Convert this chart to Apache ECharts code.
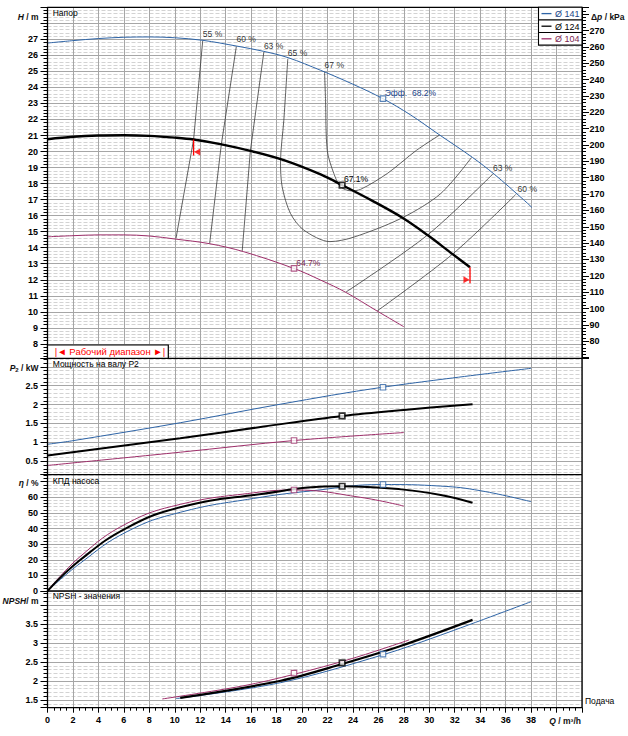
<!DOCTYPE html>
<html><head><meta charset="utf-8">
<script src="https://cdn.jsdelivr.net/npm/echarts@6.0.0/dist/echarts.min.js"></script>
<style>html,body{margin:0;padding:0;background:#fff}#c{width:628px;height:736px}</style>
</head><body><div id="c"></div>
<script>
// ---------- data ----------
const diameters = ['Ø 141', 'Ø 124', 'Ø 104'];
const qTicksMax = 38;
// Head H [m] vs Q [m3/h]
const headD141 = [[0,26.77],[2,26.92],[4,27.05],[6,27.13],[8,27.15],[10,27.1],[12.2,26.94],[14.87,26.58],[17,26.25],[18.9,25.86],[21.46,25.07],[24,24.2],[26.36,23.3],[28.5,22.3],[30.8,21.04],[33.4,19.63],[35.1,18.59],[37.4,17.0],[38.07,16.51]];
const headD124 = [[0,20.77],[2,20.92],[4,21.0],[6,21.02],[8,20.98],[10,20.87],[11.48,20.75],[13.58,20.46],[15.94,20.04],[18.57,19.46],[21.46,18.57],[23.17,17.9],[25.5,16.94],[27.89,15.87],[29.86,14.79],[31.83,13.6],[33.2,12.78]];
const headD104 = [[0,14.68],[2,14.75],[4,14.8],[6,14.8],[8,14.73],[10.04,14.54],[12.74,14.25],[15.42,13.75],[19.35,12.71],[21.46,11.98],[23.43,11.22],[25.9,10.05],[28.0,9.07]];
// Shaft power P2 [kW]
const powerD141 = [[0,0.95],[2,1.045],[10.43,1.52],[18.3,2.01],[26.34,2.46],[38,2.96]];
const powerD124 = [[0,0.65],[10.43,1.11],[17,1.42],[23.15,1.70],[28,1.86],[33.4,2.01]];
const powerD104 = [[0,0.39],[10.43,0.74],[19.4,1.05],[28,1.26]];
// Pump efficiency [%]
const etaD141 = [[0,0],[2.56,17.7],[6.24,38],[10.43,50.4],[16.2,59.3],[20.8,64.2],[26.34,68.2],[30.9,67.2],[34.05,64.2],[38,57.2]];
const etaD124 = [[0,0],[2.56,19.8],[6.24,40.5],[10.43,53.6],[16.2,61.5],[23.15,67.1],[27.8,65.1],[30.9,61.5],[33.4,56.5]];
const etaD104 = [[0,0],[2.56,22],[6.24,43.3],[10.43,55.5],[16.2,62.9],[19.4,64.7],[24.6,60],[28,54.4]];
// NPSH [m]
const npshD141 = [[10.1,1.54],[18.33,1.96],[26.34,2.69],[30.9,3.21],[38,4.09]];
const npshD124 = [[10.43,1.56],[18.33,2.01],[23.15,2.45],[27.8,2.93],[33.4,3.61]];
const npshD104 = [[9.02,1.53],[15.3,1.87],[19.4,2.18],[24,2.6],[28.4,3.08]];
// Best efficiency points
const bepQ = [26.36, 23.15, 19.37];
const bepH = [23.3, 17.9, 12.71];
const bepP = [2.46, 1.70, 1.05];
const bepEta = [68.2, 67.1, 64.7];
const bepNPSH = [2.71, 2.48, 2.21];
const bepLabel = ['Эфф.  68.2%', '67.1%', '64.7%'];
// Iso-efficiency lines in the head panel
const iso55 = [[12.2,26.94],[11.48,20.75],[10.1,14.6]];
const iso60 = [[14.84,26.56],[13.66,20.45],[12.74,14.25]];
const iso63 = [[17.0,26.21],[15.94,20.04],[15.3,13.8]];
const iso65 = [[18.88,25.78],[18.57,21.95],[18.31,19.35],[18.44,17.8],[19.09,16.14],[20.14,15.1],[22.2,14.38],[24.07,14.66],[27.89,15.87],[30.9,17.38],[33.32,19.63]];
const iso67 = [[21.77,24.97],[21.85,23.2],[21.98,20.08],[22.5,18.63],[23.03,17.8],[23.82,17.55],[24.6,17.64],[26.7,18.63],[29.0,20.08],[30.83,21.04]];
const iso63r = [[35.0,18.6],[29.86,14.79],[23.43,11.22]];
const iso60r = [[36.8,17.32],[31.83,13.6],[25.9,10.05]];
const isoLabels = ['55 %','60 %','63 %','65 %','67 %','63 %','60 %'];
// operating range limits on the Ø124 curve
const opRangeQ = [11.48, 33.2];

// ---------- layout / style ----------
const FONT = 'Liberation Sans';
const colors = ['#2e64a6', '#000000', '#9e2f6a'];
const textColors = ['#1a4488', '#000000', '#7c1f52'];
const GRID = '#a6a6a6', MINOR = '#d3d3d3';
const L = 47.5, R = 582, T = [7.3, 358.3, 474.7, 591, 707.7];
const RHO_G = 9.8;

const grids = [0,1,2,3].map(i => ({left: L, top: T[i], width: R - L, height: T[i+1] - T[i], show: false}));

const xAxes = [0,1,2,3].map(i => ({
  type: 'value', gridIndex: i, min: 0, max: 42, interval: 2,
  axisLine: {show: i === 3, onZero: false, lineStyle: {color: '#000', width: 1}},
  axisTick: {show: i === 3, length: 5, lineStyle: {color: '#000'}},
  minorTick: {show: i === 3, splitNumber: 4, length: 3, lineStyle: {color: '#000'}},
  axisLabel: {show: i === 3, margin: 8, fontSize: 9, fontWeight: 'bold', color: '#000', fontFamily: FONT,
    formatter: v => (v <= qTicksMax ? String(v) : '')},
  splitLine: {show: true, lineStyle: {color: GRID, width: 1}},
  minorSplitLine: {show: false}
}));

function yAx(gi, min, max, step, minorN, lo, hi, pos, split) {
  const right = pos === 'right';
  return {
    type: 'value', gridIndex: gi, position: right ? 'right' : 'left', min, max,
    minInterval: step, maxInterval: step, splitNumber: Math.round((max - min) / step),
    axisLine: {show: true, onZero: false, lineStyle: {color: '#000', width: 1}},
    axisTick: {show: true, length: 7, lineStyle: {color: '#000', width: 1}},
    minorTick: {show: true, splitNumber: minorN, length: 4, lineStyle: {color: '#000', width: 1}},
    axisLabel: {margin: right ? 7.5 : 9.5, fontSize: 9, fontWeight: 'bold', color: '#000', fontFamily: FONT,
      formatter: v => {
        const k = v / step;
        if (v < lo - 1e-6 || v > hi + 1e-6 || Math.abs(k - Math.round(k)) > 1e-6) return '';
        return String(+v.toFixed(2));
      }},
    splitLine: {show: split !== false, lineStyle: {color: GRID, width: 1}},
    minorSplitLine: {show: split !== false, lineStyle: {color: MINOR, width: 1, type: [4, 2]}}
  };
}

const yAxes = [
  yAx(0, 7.1, 29, 1, 5, 8, 27),
  yAx(0, 7.1 * RHO_G, 29 * RHO_G, 10, 5, 80, 270, 'right', false),
  yAx(1, 0.145, 3.225, 0.5, 5, 0.5, 2.5),
  yAx(2, 0, 74.5, 10, 5, 0, 60),
  yAx(3, 1.3, 4.37, 0.5, 5, 1.5, 3.5)
];

// ---------- series ----------
const series = [];
const isoStyle = {color: '#3a3a3a', width: 0.8};
[iso55, iso60, iso63].forEach(d => series.push({type: 'line', xAxisIndex: 0, yAxisIndex: 0, data: d,
  symbol: 'none', smooth: false, lineStyle: isoStyle, silent: true, z: 2}));
[iso65, iso67, iso63r, iso60r].forEach(d => series.push({type: 'line', xAxisIndex: 0, yAxisIndex: 0, data: d,
  symbol: 'none', smooth: 0.3, lineStyle: isoStyle, silent: true, z: 2}));

const curveSets = [
  {xi: 0, yi: 0, sets: [headD141, headD124, headD104], bep: bepH, w: [1, 2.4, 1], sm: 0.35},
  {xi: 1, yi: 2, sets: [powerD141, powerD124, powerD104], bep: bepP, w: [1, 2, 1], sm: 0.35},
  {xi: 2, yi: 3, sets: [etaD141, etaD124, etaD104], bep: bepEta, w: [1, 2, 1], sm: 0.45},
  {xi: 3, yi: 4, sets: [npshD141, npshD124, npshD104], bep: bepNPSH, w: [1, 2.2, 1], sm: 0.35}
];
const bepLabelOffsets = [[-1.5, -5.3], [-1.7, -6], [-1.0, -5.5]];
curveSets.forEach((cs, pi) => {
  cs.sets.forEach((d, k) => series.push({type: 'line', name: diameters[k], xAxisIndex: cs.xi, yAxisIndex: cs.yi, data: d,
    symbol: 'none', smooth: cs.sm, lineStyle: {color: colors[k], width: cs.w[k]}, silent: true, z: 3 + (k === 1 ? 1 : 0)}));
  diameters.forEach((d, k) => series.push({type: 'scatter', xAxisIndex: cs.xi, yAxisIndex: cs.yi,
    data: [[bepQ[k], cs.bep[k]]], symbol: 'rect', symbolSize: 5.5,
    itemStyle: {color: '#fff', borderColor: colors[k], borderWidth: k === 1 ? 1.7 : 1.1}, silent: true, z: 6,
    label: pi === 0 ? {show: true, formatter: bepLabel[k], position: 'right', distance: bepLabelOffsets[k][0],
      offset: [0, bepLabelOffsets[k][1]], fontSize: 8.5, fontFamily: FONT, color: textColors[k],
      opacity: 1, textBorderWidth: 0, textShadowBlur: 0} : {show: false}}));
});

// iso labels
const isoAnchors = [iso55, iso60, iso63, iso65, iso67, iso63r, iso60r].map(d => d[0]);
const isoOffsets = [[0,-6],[0,-7.5],[0,-6],[0,-6],[0,-6.5],[0,-5.7],[1.7,-6]];
series.push({type: 'scatter', xAxisIndex: 0, yAxisIndex: 0, symbolSize: 0.1, silent: true, z: 7,
  itemStyle: {color: 'rgba(0,0,0,0)'},
  data: isoAnchors.map((p, i) => ({value: [p[0], p[1]], label: {show: true, formatter: isoLabels[i], position: 'right',
    distance: 0, offset: isoOffsets[i], fontSize: 8.5, fontFamily: FONT, color: '#000', textBorderWidth: 0}}))});

// operating range markers
const opTop = opRangeQ.map(q => headD124.find(p => p[0] === q)[1]);
opRangeQ.forEach((q, i) => {
  series.push({type: 'line', xAxisIndex: 0, yAxisIndex: 0, data: [[q, opTop[i]], [q, opTop[i] - 1.0]],
    symbol: 'none', lineStyle: {color: '#ff0000', width: 1.3}, silent: true, z: 8});
  series.push({type: 'scatter', xAxisIndex: 0, yAxisIndex: 0, data: [[q + (i === 0 ? 0.28 : -0.28), opTop[i] - 0.78]],
    symbol: 'triangle', symbolSize: [7, 6], symbolRotate: i === 0 ? 90 : -90,
    itemStyle: {color: '#ff0000'}, silent: true, z: 8});
});

// ---------- graphics (frame, legend, texts) ----------
const G = [];
function txt(x, y, text, align, extra) {
  G.push({type: 'text', x, y, z: 120, silent: true, style: Object.assign({text, fontFamily: FONT, fontSize: 8.5, fill: '#000',
    textAlign: align, align: align, textVerticalAlign: 'middle', verticalAlign: 'middle'}, extra || {})});
}
T.forEach(y => G.push({type: 'line', z: 100, silent: true, shape: {x1: L, y1: y, x2: R, y2: y}, style: {stroke: '#000', lineWidth: 1.3}}));
[L, R].forEach(x => G.push({type: 'line', z: 100, silent: true, shape: {x1: x, y1: T[0], x2: x, y2: T[4]}, style: {stroke: '#000', lineWidth: 1.3}}));

// legend box
const LG = {x: 538.5, y: T[0], w: R - 538.5, rh: 12.6};
G.push({type: 'rect', z: 105, silent: true, shape: {x: LG.x, y: LG.y, width: LG.w, height: LG.rh * 3}, style: {fill: '#fff', stroke: '#000', lineWidth: 1.1}});
diameters.forEach((d, k) => {
  const cy = LG.y + LG.rh * (k + 0.5);
  if (k > 0) G.push({type: 'line', z: 106, silent: true, shape: {x1: LG.x, y1: LG.y + LG.rh * k, x2: R, y2: LG.y + LG.rh * k}, style: {stroke: '#000', lineWidth: 1.1}});
  G.push({type: 'line', z: 106, silent: true, shape: {x1: 541.5, y1: cy, x2: 551.5, y2: cy}, style: {stroke: colors[k], lineWidth: 1.3}});
  txt(555, cy + 0.3, d, 'left', {fill: textColors[k], fontSize: 9});
});

// operating range box
G.push({type: 'rect', z: 105, silent: true, shape: {x: L, y: 345, width: 120.8, height: T[1] - 345}, style: {fill: '#fff', stroke: '#000', lineWidth: 1.2}});
txt(110, 351.8, '|◄ Рабочий диапазон ►|', 'center', {fill: '#ff0000', fontSize: 9.5});

// panel titles
txt(52.7, 13, 'Напор', 'left');
txt(52.7, 363.6, 'Мощность на валу P2', 'left');
txt(52.7, 480.5, 'КПД насоса', 'left');
txt(52.7, 596.3, 'NPSH - значения', 'left');

// axis names
const rich = {i: {fontStyle: 'italic', fontWeight: 'bold', fontSize: 8.5, fontFamily: FONT, fill: '#111'},
  b: {fontWeight: 'bold', fontSize: 8.5, fontFamily: FONT, fill: '#111'},
  s: {fontWeight: 'bold', fontSize: 6, fontFamily: FONT, fill: '#111', verticalAlign: 'bottom', padding: [4, 0, 0, 0]}};
txt(38.5, 16.5, '{i|H}{b| / m}', 'right', {rich});
txt(591, 16.5, '{b|Δ}{i|p}{b| / kPa}', 'left', {rich});
txt(38.5, 368, '{i|P}{s|2}{b| / kW}', 'right', {rich});
txt(38.5, 482.5, '{i|η}{b| / %}', 'right', {rich});
txt(38.5, 600.7, '{i|NPSH}{b|/ m}', 'right', {rich});
txt(581, 721.2, '{i|Q}{b| / m³/h}', 'right', {rich});
txt(585, 701, 'Подача', 'left', {fontSize: 8.5});

const chart = echarts.init(document.getElementById('c'), null, {renderer: 'svg', width: 628, height: 736});
chart.setOption({
  animation: false,
  backgroundColor: '#fff',
  grid: grids, xAxis: xAxes, yAxis: yAxes, series, graphic: G
});
</script></body></html>
